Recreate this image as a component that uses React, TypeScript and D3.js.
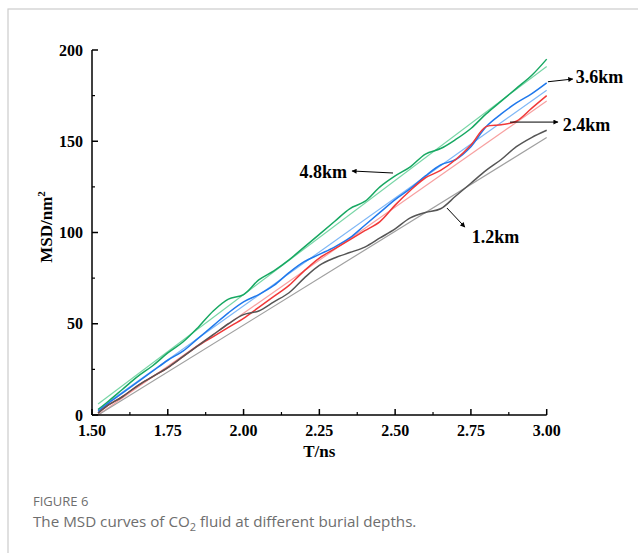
import React from "react";
import * as d3 from "d3";

const times = [1.52, 1.55, 1.6, 1.65, 1.7, 1.75, 1.8, 1.85, 1.9, 1.95, 2.0, 2.05, 2.1, 2.15, 2.2, 2.25, 2.3, 2.35, 2.4, 2.45, 2.5, 2.55, 2.6, 2.65, 2.7, 2.75, 2.8, 2.85, 2.9, 2.95, 3.0];

const msd48 = [3, 7, 14, 21, 27, 34, 40, 48, 57, 63.5, 66, 74, 79, 85, 92, 99, 106, 113, 117, 125, 131, 136, 143, 146, 151, 157, 165, 172, 179, 186, 195];
const msd36 = [2, 6, 12, 18, 24, 30, 35, 42, 49, 56, 62, 66, 71, 78, 84, 88, 92, 97, 104, 111, 118, 124, 131, 137, 140, 147, 158, 165, 171, 176, 182];
const msd24 = [1, 5, 10, 16, 21, 26, 32, 38, 43, 48, 53, 59, 65, 71, 79, 86, 91, 96, 101, 106, 115, 123, 130, 134, 140, 148, 158, 159, 161, 168, 175];
const msd12 = [1, 5, 10, 16, 21, 26, 32, 38, 44, 50, 55, 57, 62, 67, 75, 82, 86, 89, 92, 97, 102, 108, 111, 113, 120, 127, 134, 140, 147, 152, 156];

const fitT = [1.52, 3.0];
const fit48 = [6, 191];
const fit36 = [3, 178];
const fit24 = [0, 172];
const fit12 = [0, 152];

const xTicks = [1.5, 1.75, 2.0, 2.25, 2.5, 2.75, 3.0];
const yTicks = [0, 50, 100, 150, 200];

const series = [
  { name: "4.8km", raw: msd48, fit: fit48, color: "#17a862", light: "#78d6a6" },
  { name: "3.6km", raw: msd36, fit: fit36, color: "#1f78ec", light: "#80b8f6" },
  { name: "2.4km", raw: msd24, fit: fit24, color: "#f03838", light: "#f7a0a0" },
  { name: "1.2km", raw: msd12, fit: fit12, color: "#555555", light: "#a0a0a0" },
];

const labels = [
  { text: "3.6km", from: [3.004, 182.6], to: [3.086, 184.1], tx: 3.096, ty: 185.2, anchor: "start" },
  { text: "2.4km", from: [2.879, 160.5], to: [3.037, 160.5], tx: 3.053, ty: 158.9, anchor: "start" },
  { text: "4.8km", from: [2.493, 132.6], to: [2.358, 133.7], tx: 2.341, ty: 133.2, anchor: "end" },
  { text: "1.2km", from: [2.671, 113.4], to: [2.73, 103], tx: 2.753, ty: 97.5, anchor: "start" },
];

export default function App() {
  const W = 638, H = 553;
  const x = d3.scaleLinear().domain([1.5, 3.0]).range([92, 546.7]);
  const y = d3.scaleLinear().domain([0, 200]).range([415, 50]);
  const line = d3.line<[number, number]>().x(d => x(d[0])).y(d => y(d[1])).curve(d3.curveCatmullRom.alpha(0.5));
  const straight = d3.line<[number, number]>().x(d => x(d[0])).y(d => y(d[1]));
  const serif = "'Liberation Serif', 'Times New Roman', serif";
  const minorX = d3.range(1.625, 3.0, 0.25);
  const minorY = d3.range(25, 200, 50);

  return (
    <svg width={W} height={H} style={{ position: "absolute", left: 0, top: 0, background: "#fff" }}>
      <defs>
        <marker id="ah" viewBox="0 0 10 10" refX="9" refY="5" markerWidth="8" markerHeight="5" orient="auto" markerUnits="userSpaceOnUse">
          <path d="M0,0 L10,5 L0,10 Z" fill="#000" />
        </marker>
      </defs>
      <rect x={8} y={9} width={W} height={H} fill="#fff" stroke="#cccccc" strokeWidth={1.2} />
      {series.map(s => (
        <path key={s.name + "f"} d={straight(fitT.map((t, i) => [t, s.fit[i]] as [number, number])) || ""} fill="none" stroke={s.light} strokeWidth={1.2} />
      ))}
      {series.map(s => (
        <path key={s.name + "r"} d={line(times.map((t, i) => [t, s.raw[i]] as [number, number])) || ""} fill="none" stroke={s.color} strokeWidth={1.5} />
      ))}
      <line x1={x(1.5)} x2={x(3.0)} y1={y(0)} y2={y(0)} stroke="#000" strokeWidth={1.5} />
      <line x1={x(1.5)} x2={x(1.5)} y1={y(0)} y2={y(200)} stroke="#000" strokeWidth={1.5} />
      {xTicks.map(t => (
        <g key={"xt" + t}>
          <line x1={x(t)} x2={x(t)} y1={y(0)} y2={y(0) - 6} stroke="#000" strokeWidth={1.5} />
          <text x={x(t)} y={y(0) + 21} textAnchor="middle" fontFamily={serif} fontWeight="bold" fontSize={16}>{t.toFixed(2)}</text>
        </g>
      ))}
      {minorX.map(t => (
        <line key={"mx" + t} x1={x(t)} x2={x(t)} y1={y(0)} y2={y(0) - 3} stroke="#000" strokeWidth={1.2} />
      ))}
      {yTicks.map(t => (
        <g key={"yt" + t}>
          <line x1={x(1.5)} x2={x(1.5) + 6} y1={y(t)} y2={y(t)} stroke="#000" strokeWidth={1.5} />
          <text x={x(1.5) - 9} y={y(t)} dy="0.35em" textAnchor="end" fontFamily={serif} fontWeight="bold" fontSize={16}>{t}</text>
        </g>
      ))}
      {minorY.map(t => (
        <line key={"my" + t} x1={x(1.5)} x2={x(1.5) + 3} y1={y(t)} y2={y(t)} stroke="#000" strokeWidth={1.2} />
      ))}
      <text x={(x(1.5) + x(3.0)) / 2} y={457} textAnchor="middle" fontFamily={serif} fontWeight="bold" fontSize={17}>T/ns</text>
      <text transform={`translate(52, 227) rotate(-90)`} textAnchor="middle" fontFamily={serif} fontWeight="bold" fontSize={17}>
        MSD/nm<tspan dy="-7" fontSize={11}>2</tspan>
      </text>
      {labels.map(l => (
        <g key={l.text}>
          <line x1={x(l.from[0])} y1={y(l.from[1])} x2={x(l.to[0])} y2={y(l.to[1])} stroke="#000" strokeWidth={1} markerEnd="url(#ah)" />
          <text x={x(l.tx)} y={y(l.ty)} dy="0.35em" textAnchor={l.anchor} fontFamily={serif} fontWeight="bold" fontSize={18}>{l.text}</text>
        </g>
      ))}
      <text x={33} y={506} fontFamily="'Open Sans', 'Noto Sans', sans-serif" fontSize={13} fill="#6e6e6e">FIGURE 6</text>
      <text x={33} y={527} fontFamily="'Open Sans', 'Noto Sans', sans-serif" fontSize={15.2} fill="#6e6e6e">
        The MSD curves of CO<tspan dy="4" fontSize={11}>2</tspan><tspan dy="-4"> fluid at different burial depths.</tspan>
      </text>
    </svg>
  );
}
